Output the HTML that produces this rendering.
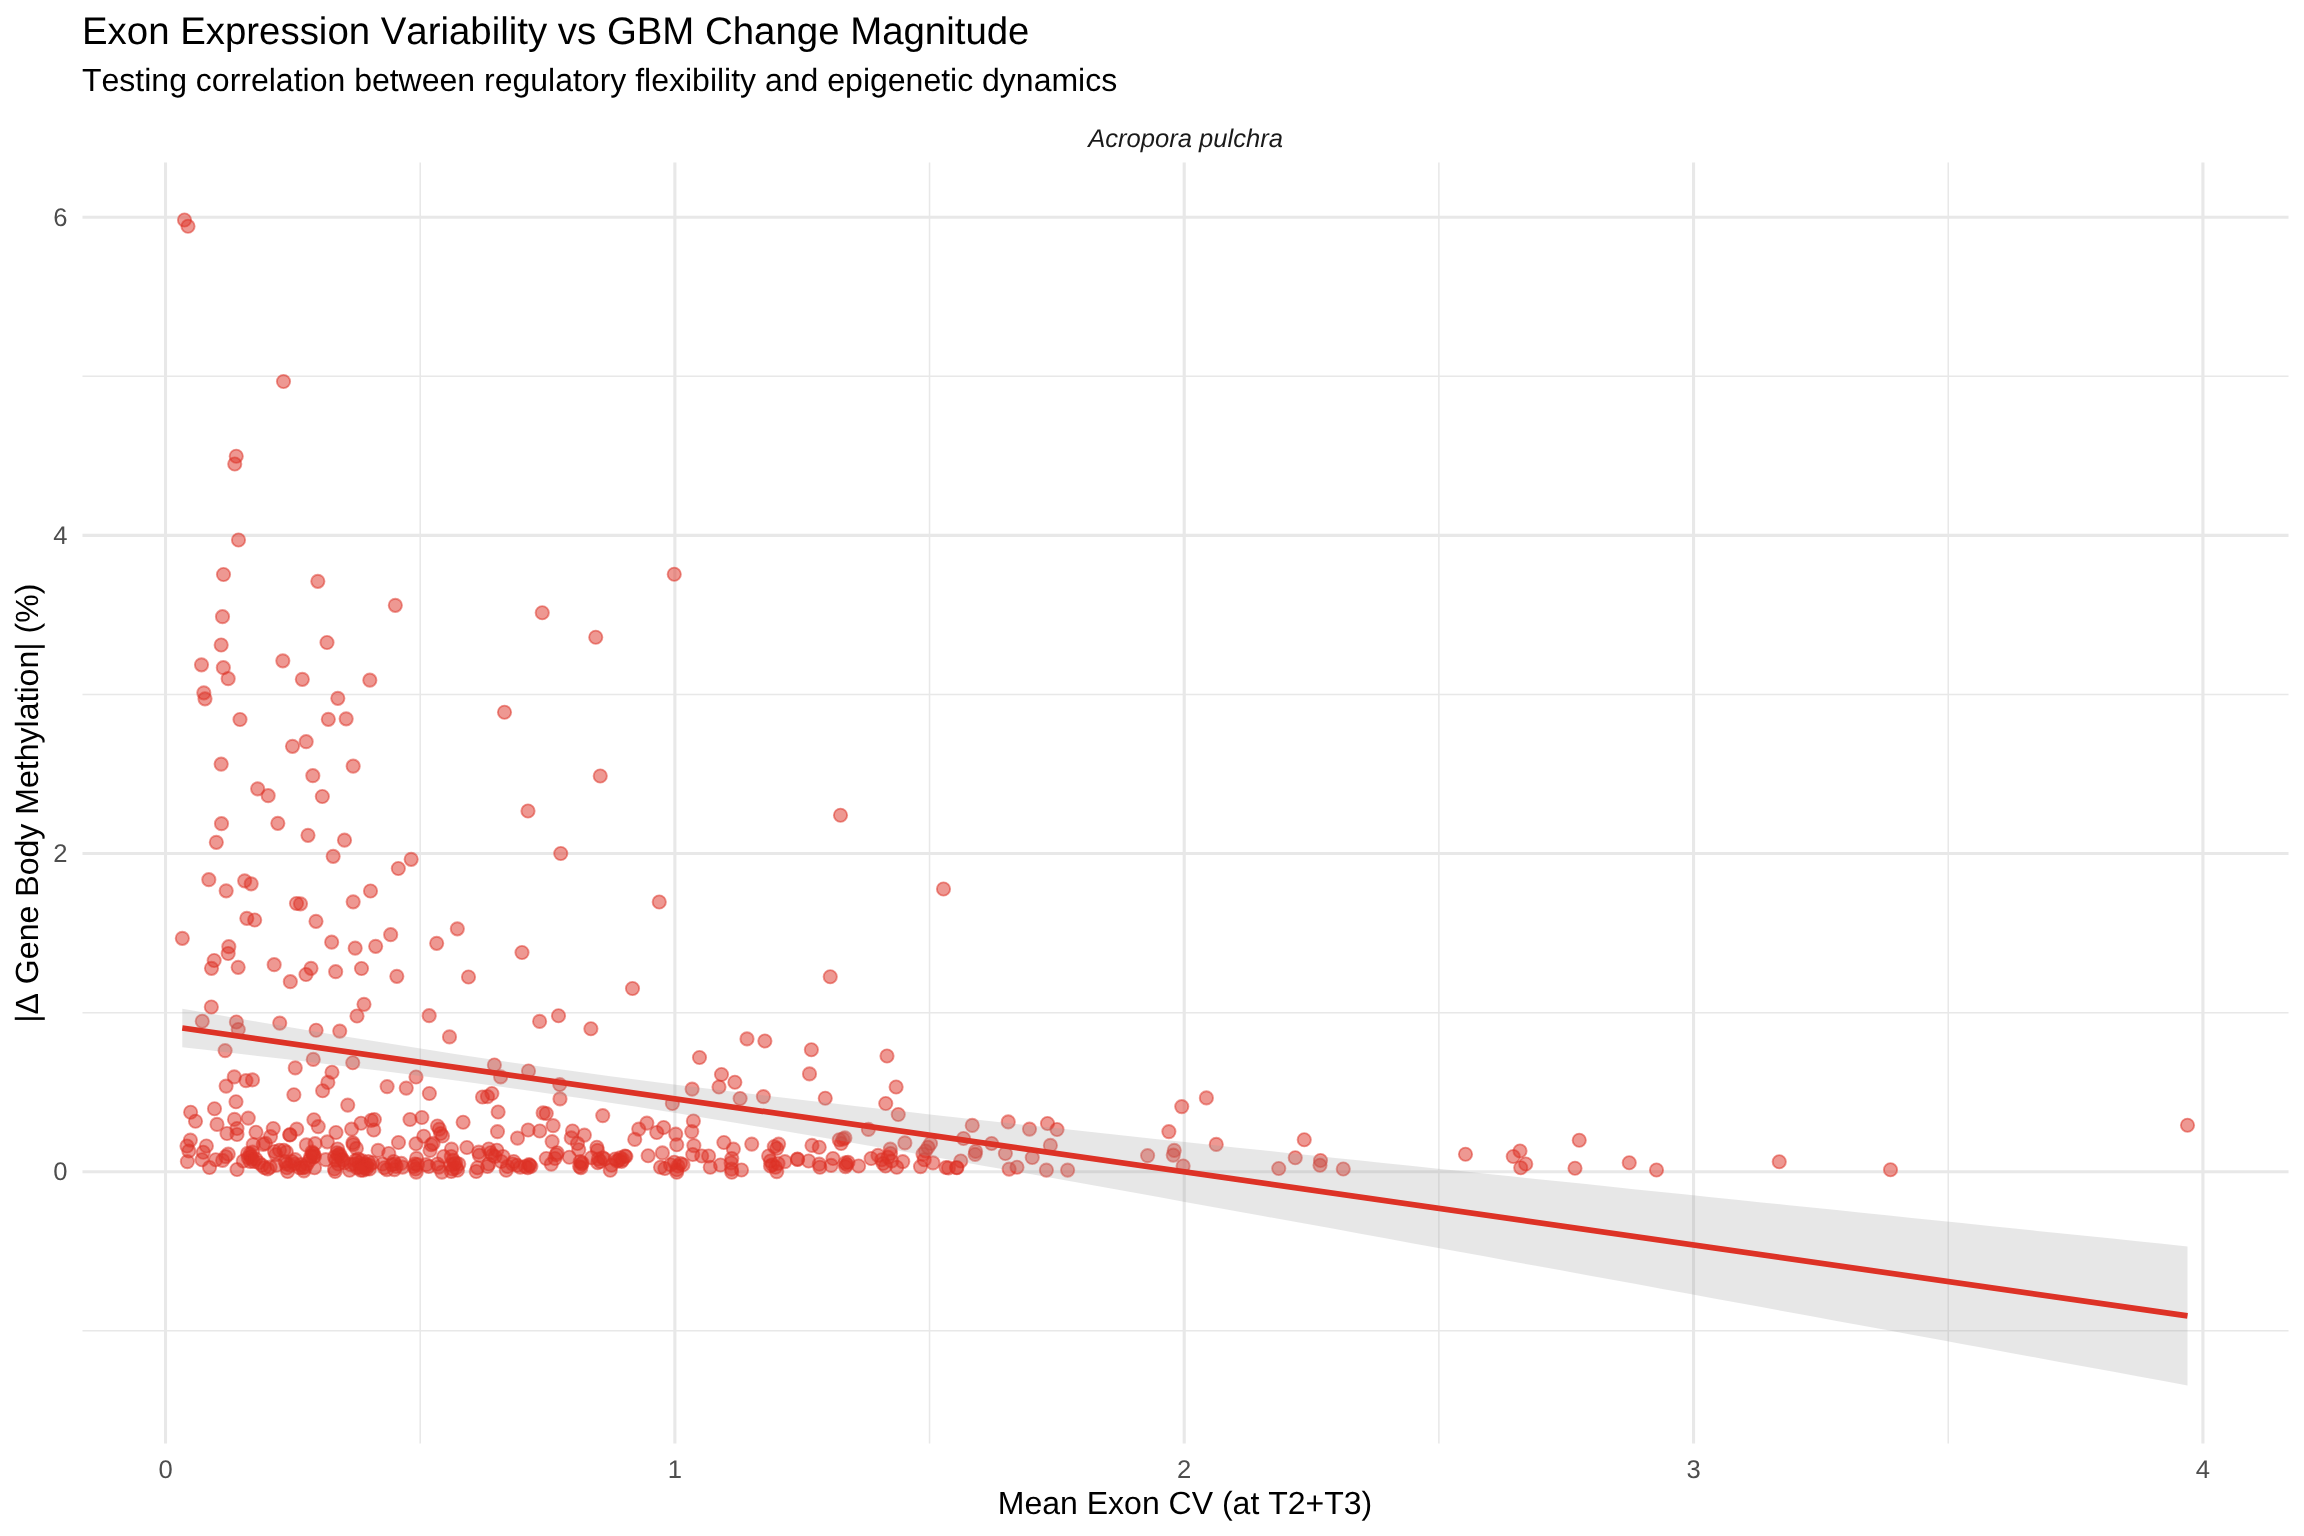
<!DOCTYPE html>
<html><head><meta charset="utf-8"><style>
html,body{margin:0;padding:0;background:#fff;}
body{width:2304px;height:1536px;overflow:hidden;font-family:"Liberation Sans",sans-serif;}
svg{display:block;will-change:transform;}
text{font-family:"Liberation Sans",sans-serif;font-kerning:none;text-rendering:geometricPrecision;}
</style></head><body>
<svg width="2304" height="1536" viewBox="0 0 2304 1536">
<g><line x1="82.5" y1="1330.83" x2="2288.5" y2="1330.83" stroke="#e8e8e8" stroke-width="1.55"/><line x1="82.5" y1="1012.65" x2="2288.5" y2="1012.65" stroke="#e8e8e8" stroke-width="1.55"/><line x1="82.5" y1="694.47" x2="2288.5" y2="694.47" stroke="#e8e8e8" stroke-width="1.55"/><line x1="82.5" y1="376.29" x2="2288.5" y2="376.29" stroke="#e8e8e8" stroke-width="1.55"/><line x1="82.5" y1="1171.74" x2="2288.5" y2="1171.74" stroke="#e8e8e8" stroke-width="3.1"/><line x1="82.5" y1="853.56" x2="2288.5" y2="853.56" stroke="#e8e8e8" stroke-width="3.1"/><line x1="82.5" y1="535.38" x2="2288.5" y2="535.38" stroke="#e8e8e8" stroke-width="3.1"/><line x1="82.5" y1="217.20" x2="2288.5" y2="217.20" stroke="#e8e8e8" stroke-width="3.1"/><line x1="420.20" y1="162.6" x2="420.20" y2="1443.6" stroke="#e8e8e8" stroke-width="1.55"/><line x1="929.55" y1="162.6" x2="929.55" y2="1443.6" stroke="#e8e8e8" stroke-width="1.55"/><line x1="1438.89" y1="162.6" x2="1438.89" y2="1443.6" stroke="#e8e8e8" stroke-width="1.55"/><line x1="1948.25" y1="162.6" x2="1948.25" y2="1443.6" stroke="#e8e8e8" stroke-width="1.55"/><line x1="165.52" y1="162.6" x2="165.52" y2="1443.6" stroke="#e8e8e8" stroke-width="3.1"/><line x1="674.87" y1="162.6" x2="674.87" y2="1443.6" stroke="#e8e8e8" stroke-width="3.1"/><line x1="1184.22" y1="162.6" x2="1184.22" y2="1443.6" stroke="#e8e8e8" stroke-width="3.1"/><line x1="1693.57" y1="162.6" x2="1693.57" y2="1443.6" stroke="#e8e8e8" stroke-width="3.1"/><line x1="2202.92" y1="162.6" x2="2202.92" y2="1443.6" stroke="#e8e8e8" stroke-width="3.1"/></g>
<g fill="#DD3226" fill-opacity="0.5" stroke="#DD3226" stroke-opacity="0.5" stroke-width="1.89"><circle cx="184.5" cy="220.0" r="6.63"/><circle cx="188.0" cy="226.25" r="6.63"/><circle cx="283.5" cy="381.5" r="6.63"/><circle cx="236.25" cy="456.25" r="6.63"/><circle cx="234.75" cy="464.0" r="6.63"/><circle cx="238.5" cy="540.0" r="6.63"/><circle cx="223.5" cy="574.5" r="6.63"/><circle cx="317.83" cy="581.33" r="6.63"/><circle cx="395.33" cy="605.33" r="6.63"/><circle cx="222.5" cy="616.67" r="6.63"/><circle cx="221.17" cy="645.0" r="6.63"/><circle cx="327.0" cy="642.5" r="6.63"/><circle cx="282.83" cy="660.83" r="6.63"/><circle cx="201.5" cy="664.83" r="6.63"/><circle cx="223.33" cy="667.67" r="6.63"/><circle cx="228.17" cy="678.67" r="6.63"/><circle cx="302.33" cy="679.33" r="6.63"/><circle cx="369.83" cy="680.17" r="6.63"/><circle cx="203.83" cy="692.83" r="6.63"/><circle cx="205.0" cy="698.83" r="6.63"/><circle cx="337.83" cy="698.33" r="6.63"/><circle cx="240.0" cy="719.5" r="6.63"/><circle cx="328.33" cy="719.33" r="6.63"/><circle cx="346.17" cy="718.83" r="6.63"/><circle cx="306.17" cy="741.67" r="6.63"/><circle cx="292.5" cy="746.33" r="6.63"/><circle cx="221.17" cy="764.17" r="6.63"/><circle cx="353.17" cy="766.17" r="6.63"/><circle cx="312.83" cy="775.67" r="6.63"/><circle cx="257.67" cy="788.83" r="6.63"/><circle cx="268.17" cy="795.67" r="6.63"/><circle cx="322.33" cy="796.5" r="6.63"/><circle cx="221.5" cy="823.67" r="6.63"/><circle cx="277.83" cy="823.33" r="6.63"/><circle cx="216.33" cy="842.33" r="6.63"/><circle cx="308.0" cy="835.33" r="6.63"/><circle cx="344.5" cy="840.17" r="6.63"/><circle cx="333.17" cy="856.33" r="6.63"/><circle cx="411.17" cy="859.33" r="6.63"/><circle cx="398.33" cy="868.5" r="6.63"/><circle cx="208.83" cy="879.67" r="6.63"/><circle cx="244.67" cy="880.83" r="6.63"/><circle cx="251.17" cy="883.83" r="6.63"/><circle cx="226.17" cy="890.83" r="6.63"/><circle cx="370.5" cy="891.0" r="6.63"/><circle cx="353.17" cy="901.83" r="6.63"/><circle cx="296.5" cy="903.5" r="6.63"/><circle cx="300.5" cy="903.83" r="6.63"/><circle cx="246.83" cy="918.33" r="6.63"/><circle cx="254.67" cy="920.0" r="6.63"/><circle cx="316.0" cy="921.33" r="6.63"/><circle cx="182.33" cy="938.33" r="6.63"/><circle cx="390.67" cy="934.67" r="6.63"/><circle cx="457.33" cy="928.83" r="6.63"/><circle cx="436.67" cy="943.33" r="6.63"/><circle cx="331.67" cy="942.17" r="6.63"/><circle cx="355.17" cy="948.17" r="6.63"/><circle cx="375.67" cy="946.33" r="6.63"/><circle cx="228.83" cy="946.67" r="6.63"/><circle cx="228.17" cy="953.5" r="6.63"/><circle cx="214.17" cy="960.5" r="6.63"/><circle cx="211.5" cy="968.33" r="6.63"/><circle cx="238.17" cy="967.33" r="6.63"/><circle cx="274.17" cy="964.67" r="6.63"/><circle cx="311.0" cy="968.33" r="6.63"/><circle cx="306.0" cy="974.5" r="6.63"/><circle cx="335.67" cy="971.67" r="6.63"/><circle cx="361.5" cy="968.5" r="6.63"/><circle cx="396.83" cy="976.33" r="6.63"/><circle cx="290.33" cy="981.67" r="6.63"/><circle cx="211.33" cy="1007.0" r="6.63"/><circle cx="364.0" cy="1004.33" r="6.63"/><circle cx="357.0" cy="1016.0" r="6.63"/><circle cx="429.17" cy="1015.67" r="6.63"/><circle cx="202.25" cy="1021.25" r="6.63"/><circle cx="236.38" cy="1022.0" r="6.63"/><circle cx="238.25" cy="1029.5" r="6.63"/><circle cx="279.75" cy="1023.12" r="6.63"/><circle cx="316.12" cy="1030.25" r="6.63"/><circle cx="339.75" cy="1031.12" r="6.63"/><circle cx="225.12" cy="1050.62" r="6.63"/><circle cx="313.25" cy="1059.38" r="6.63"/><circle cx="352.75" cy="1062.75" r="6.63"/><circle cx="295.25" cy="1067.88" r="6.63"/><circle cx="332.0" cy="1072.25" r="6.63"/><circle cx="234.25" cy="1076.88" r="6.63"/><circle cx="246.0" cy="1080.62" r="6.63"/><circle cx="252.5" cy="1079.88" r="6.63"/><circle cx="327.88" cy="1082.38" r="6.63"/><circle cx="226.12" cy="1086.12" r="6.63"/><circle cx="322.62" cy="1090.75" r="6.63"/><circle cx="293.88" cy="1094.75" r="6.63"/><circle cx="236.0" cy="1101.75" r="6.63"/><circle cx="347.75" cy="1105.12" r="6.63"/><circle cx="214.5" cy="1108.75" r="6.63"/><circle cx="190.62" cy="1112.25" r="6.63"/><circle cx="195.5" cy="1121.25" r="6.63"/><circle cx="234.5" cy="1119.38" r="6.63"/><circle cx="248.25" cy="1118.12" r="6.63"/><circle cx="217.0" cy="1124.38" r="6.63"/><circle cx="313.88" cy="1119.75" r="6.63"/><circle cx="318.25" cy="1126.62" r="6.63"/><circle cx="361.0" cy="1123.25" r="6.63"/><circle cx="237.0" cy="1128.5" r="6.63"/><circle cx="273.25" cy="1128.5" r="6.63"/><circle cx="296.75" cy="1129.12" r="6.63"/><circle cx="227.0" cy="1133.5" r="6.63"/><circle cx="237.0" cy="1134.5" r="6.63"/><circle cx="256.0" cy="1132.25" r="6.63"/><circle cx="270.5" cy="1136.62" r="6.63"/><circle cx="289.75" cy="1134.75" r="6.63"/><circle cx="290.0" cy="1134.88" r="6.63"/><circle cx="336.0" cy="1132.5" r="6.63"/><circle cx="351.62" cy="1129.12" r="6.63"/><circle cx="190.38" cy="1140.12" r="6.63"/><circle cx="187.0" cy="1146.0" r="6.63"/><circle cx="188.88" cy="1151.0" r="6.63"/><circle cx="206.38" cy="1146.0" r="6.63"/><circle cx="203.25" cy="1152.25" r="6.63"/><circle cx="202.0" cy="1159.75" r="6.63"/><circle cx="187.38" cy="1161.62" r="6.63"/><circle cx="209.5" cy="1167.5" r="6.63"/><circle cx="215.75" cy="1159.75" r="6.63"/><circle cx="222.62" cy="1160.38" r="6.63"/><circle cx="225.75" cy="1156.62" r="6.63"/><circle cx="228.25" cy="1154.12" r="6.63"/><circle cx="237.0" cy="1169.5" r="6.63"/><circle cx="243.25" cy="1161.0" r="6.63"/><circle cx="253.25" cy="1144.62" r="6.63"/><circle cx="263.25" cy="1144.31" r="6.63"/><circle cx="265.44" cy="1143.38" r="6.63"/><circle cx="306.38" cy="1144.94" r="6.63"/><circle cx="315.12" cy="1143.69" r="6.63"/><circle cx="327.31" cy="1141.81" r="6.63"/><circle cx="352.94" cy="1142.75" r="6.63"/><circle cx="353.25" cy="1144.62" r="6.63"/><circle cx="356.38" cy="1148.38" r="6.63"/><circle cx="337.62" cy="1149.0" r="6.63"/><circle cx="250.12" cy="1154.0" r="6.63"/><circle cx="250.75" cy="1156.5" r="6.63"/><circle cx="252.0" cy="1159.0" r="6.63"/><circle cx="248.25" cy="1157.75" r="6.63"/><circle cx="253.88" cy="1161.5" r="6.63"/><circle cx="258.88" cy="1162.75" r="6.63"/><circle cx="262.0" cy="1165.25" r="6.63"/><circle cx="264.5" cy="1167.75" r="6.63"/><circle cx="267.62" cy="1169.0" r="6.63"/><circle cx="270.12" cy="1167.12" r="6.63"/><circle cx="274.5" cy="1151.5" r="6.63"/><circle cx="275.75" cy="1154.62" r="6.63"/><circle cx="279.5" cy="1150.25" r="6.63"/><circle cx="283.88" cy="1150.25" r="6.63"/><circle cx="286.38" cy="1152.12" r="6.63"/><circle cx="276.38" cy="1165.25" r="6.63"/><circle cx="286.38" cy="1164.0" r="6.63"/><circle cx="287.0" cy="1167.75" r="6.63"/><circle cx="287.62" cy="1171.5" r="6.63"/><circle cx="292.0" cy="1161.5" r="6.63"/><circle cx="295.12" cy="1159.62" r="6.63"/><circle cx="294.5" cy="1164.0" r="6.63"/><circle cx="300.75" cy="1164.62" r="6.63"/><circle cx="302.62" cy="1167.75" r="6.63"/><circle cx="303.88" cy="1170.88" r="6.63"/><circle cx="307.0" cy="1164.0" r="6.63"/><circle cx="312.62" cy="1153.38" r="6.63"/><circle cx="313.88" cy="1154.0" r="6.63"/><circle cx="313.25" cy="1157.12" r="6.63"/><circle cx="309.5" cy="1160.25" r="6.63"/><circle cx="314.5" cy="1167.75" r="6.63"/><circle cx="325.75" cy="1159.62" r="6.63"/><circle cx="334.5" cy="1157.12" r="6.63"/><circle cx="338.25" cy="1155.25" r="6.63"/><circle cx="339.5" cy="1154.0" r="6.63"/><circle cx="341.38" cy="1159.0" r="6.63"/><circle cx="334.5" cy="1169.0" r="6.63"/><circle cx="335.12" cy="1171.5" r="6.63"/><circle cx="338.25" cy="1164.0" r="6.63"/><circle cx="344.5" cy="1162.75" r="6.63"/><circle cx="349.5" cy="1170.25" r="6.63"/><circle cx="350.75" cy="1164.62" r="6.63"/><circle cx="355.75" cy="1160.25" r="6.63"/><circle cx="358.88" cy="1162.75" r="6.63"/><circle cx="362.0" cy="1160.88" r="6.63"/><circle cx="365.12" cy="1164.0" r="6.63"/><circle cx="368.25" cy="1161.5" r="6.63"/><circle cx="366.38" cy="1169.0" r="6.63"/><circle cx="363.25" cy="1170.25" r="6.63"/><circle cx="360.12" cy="1167.12" r="6.63"/><circle cx="357.0" cy="1167.75" r="6.63"/><circle cx="369.5" cy="1165.25" r="6.63"/><circle cx="247.62" cy="1153.38" r="6.63"/><circle cx="252.62" cy="1152.12" r="6.63"/><circle cx="250.12" cy="1161.5" r="6.63"/><circle cx="255.75" cy="1159.0" r="6.63"/><circle cx="312.0" cy="1152.12" r="6.63"/><circle cx="314.5" cy="1156.5" r="6.63"/><circle cx="310.75" cy="1156.5" r="6.63"/><circle cx="337.0" cy="1152.75" r="6.63"/><circle cx="340.75" cy="1156.5" r="6.63"/><circle cx="343.25" cy="1160.25" r="6.63"/><circle cx="335.75" cy="1160.25" r="6.63"/><circle cx="354.5" cy="1164.0" r="6.63"/><circle cx="358.25" cy="1159.0" r="6.63"/><circle cx="362.62" cy="1164.62" r="6.63"/><circle cx="367.0" cy="1165.25" r="6.63"/><circle cx="369.5" cy="1169.0" r="6.63"/><circle cx="364.5" cy="1167.75" r="6.63"/><circle cx="360.75" cy="1170.25" r="6.63"/><circle cx="285.12" cy="1161.5" r="6.63"/><circle cx="290.12" cy="1165.25" r="6.63"/><circle cx="299.5" cy="1167.75" r="6.63"/><circle cx="305.12" cy="1167.12" r="6.63"/><circle cx="449.5" cy="1036.88" r="6.63"/><circle cx="539.62" cy="1021.38" r="6.63"/><circle cx="590.88" cy="1028.75" r="6.63"/><circle cx="494.38" cy="1065.0" r="6.63"/><circle cx="500.62" cy="1076.88" r="6.63"/><circle cx="528.5" cy="1071.0" r="6.63"/><circle cx="559.75" cy="1084.5" r="6.63"/><circle cx="560.0" cy="1098.88" r="6.63"/><circle cx="416.0" cy="1077.0" r="6.63"/><circle cx="387.12" cy="1086.62" r="6.63"/><circle cx="406.25" cy="1088.12" r="6.63"/><circle cx="429.38" cy="1093.5" r="6.63"/><circle cx="491.88" cy="1093.5" r="6.63"/><circle cx="487.5" cy="1096.62" r="6.63"/><circle cx="482.5" cy="1097.0" r="6.63"/><circle cx="498.12" cy="1112.0" r="6.63"/><circle cx="543.12" cy="1112.88" r="6.63"/><circle cx="546.25" cy="1113.5" r="6.63"/><circle cx="602.75" cy="1115.62" r="6.63"/><circle cx="374.38" cy="1119.5" r="6.63"/><circle cx="371.25" cy="1120.38" r="6.63"/><circle cx="373.75" cy="1130.0" r="6.63"/><circle cx="410.0" cy="1119.5" r="6.63"/><circle cx="421.88" cy="1117.5" r="6.63"/><circle cx="463.12" cy="1122.25" r="6.63"/><circle cx="437.5" cy="1126.0" r="6.63"/><circle cx="439.38" cy="1129.12" r="6.63"/><circle cx="440.62" cy="1133.5" r="6.63"/><circle cx="442.5" cy="1136.0" r="6.63"/><circle cx="497.5" cy="1131.62" r="6.63"/><circle cx="528.12" cy="1130.0" r="6.63"/><circle cx="539.75" cy="1131.0" r="6.63"/><circle cx="553.12" cy="1125.62" r="6.63"/><circle cx="517.5" cy="1138.12" r="6.63"/><circle cx="572.5" cy="1131.0" r="6.63"/><circle cx="571.25" cy="1137.88" r="6.63"/><circle cx="584.38" cy="1135.12" r="6.63"/><circle cx="552.12" cy="1141.62" r="6.63"/><circle cx="577.5" cy="1143.5" r="6.63"/><circle cx="578.75" cy="1149.75" r="6.63"/><circle cx="646.88" cy="1123.12" r="6.63"/><circle cx="638.75" cy="1129.12" r="6.63"/><circle cx="634.75" cy="1139.38" r="6.63"/><circle cx="423.75" cy="1136.25" r="6.63"/><circle cx="398.5" cy="1142.5" r="6.63"/><circle cx="416.0" cy="1143.75" r="6.63"/><circle cx="431.25" cy="1144.75" r="6.63"/><circle cx="430.0" cy="1150.38" r="6.63"/><circle cx="378.12" cy="1150.38" r="6.63"/><circle cx="388.75" cy="1153.5" r="6.63"/><circle cx="451.5" cy="1149.12" r="6.63"/><circle cx="466.88" cy="1147.5" r="6.63"/><circle cx="596.88" cy="1147.25" r="6.63"/><circle cx="597.5" cy="1150.38" r="6.63"/><circle cx="648.12" cy="1155.75" r="6.63"/><circle cx="625.0" cy="1156.0" r="6.63"/><circle cx="569.38" cy="1157.25" r="6.63"/><circle cx="546.25" cy="1158.5" r="6.63"/><circle cx="556.25" cy="1154.75" r="6.63"/><circle cx="555.0" cy="1158.5" r="6.63"/><circle cx="551.25" cy="1164.12" r="6.63"/><circle cx="433.12" cy="1143.38" r="6.63"/><circle cx="416.56" cy="1158.38" r="6.63"/><circle cx="372.5" cy="1162.75" r="6.63"/><circle cx="382.5" cy="1164.0" r="6.63"/><circle cx="384.38" cy="1167.75" r="6.63"/><circle cx="386.88" cy="1169.62" r="6.63"/><circle cx="393.75" cy="1161.5" r="6.63"/><circle cx="395.0" cy="1164.0" r="6.63"/><circle cx="396.25" cy="1166.5" r="6.63"/><circle cx="394.38" cy="1169.62" r="6.63"/><circle cx="391.88" cy="1164.62" r="6.63"/><circle cx="401.25" cy="1163.38" r="6.63"/><circle cx="402.5" cy="1167.12" r="6.63"/><circle cx="413.75" cy="1166.5" r="6.63"/><circle cx="415.62" cy="1169.0" r="6.63"/><circle cx="416.25" cy="1172.12" r="6.63"/><circle cx="417.5" cy="1164.62" r="6.63"/><circle cx="415.0" cy="1164.0" r="6.63"/><circle cx="426.25" cy="1164.62" r="6.63"/><circle cx="428.75" cy="1166.5" r="6.63"/><circle cx="437.5" cy="1164.0" r="6.63"/><circle cx="438.75" cy="1167.12" r="6.63"/><circle cx="441.88" cy="1172.12" r="6.63"/><circle cx="443.75" cy="1156.5" r="6.63"/><circle cx="451.25" cy="1156.5" r="6.63"/><circle cx="453.12" cy="1160.25" r="6.63"/><circle cx="454.38" cy="1164.0" r="6.63"/><circle cx="456.25" cy="1167.75" r="6.63"/><circle cx="457.5" cy="1170.25" r="6.63"/><circle cx="452.5" cy="1169.0" r="6.63"/><circle cx="451.25" cy="1171.5" r="6.63"/><circle cx="458.75" cy="1164.0" r="6.63"/><circle cx="455.62" cy="1162.75" r="6.63"/><circle cx="450.62" cy="1164.62" r="6.63"/><circle cx="478.75" cy="1152.12" r="6.63"/><circle cx="479.38" cy="1155.25" r="6.63"/><circle cx="488.75" cy="1149.0" r="6.63"/><circle cx="490.62" cy="1152.75" r="6.63"/><circle cx="492.5" cy="1155.25" r="6.63"/><circle cx="496.88" cy="1150.25" r="6.63"/><circle cx="495.0" cy="1156.5" r="6.63"/><circle cx="503.12" cy="1156.5" r="6.63"/><circle cx="501.25" cy="1161.5" r="6.63"/><circle cx="476.25" cy="1171.5" r="6.63"/><circle cx="477.5" cy="1167.75" r="6.63"/><circle cx="487.5" cy="1166.5" r="6.63"/><circle cx="488.75" cy="1164.0" r="6.63"/><circle cx="506.25" cy="1170.25" r="6.63"/><circle cx="507.5" cy="1166.5" r="6.63"/><circle cx="512.5" cy="1164.0" r="6.63"/><circle cx="513.75" cy="1161.5" r="6.63"/><circle cx="517.12" cy="1165.25" r="6.63"/><circle cx="520.25" cy="1167.12" r="6.63"/><circle cx="527.75" cy="1167.75" r="6.63"/><circle cx="529.62" cy="1165.25" r="6.63"/><circle cx="530.88" cy="1166.5" r="6.63"/><circle cx="529.0" cy="1164.62" r="6.63"/><circle cx="525.25" cy="1166.5" r="6.63"/><circle cx="557.12" cy="1152.75" r="6.63"/><circle cx="580.25" cy="1161.5" r="6.63"/><circle cx="581.5" cy="1164.0" r="6.63"/><circle cx="580.88" cy="1167.75" r="6.63"/><circle cx="579.62" cy="1166.5" r="6.63"/><circle cx="582.12" cy="1162.75" r="6.63"/><circle cx="591.5" cy="1157.75" r="6.63"/><circle cx="598.38" cy="1159.0" r="6.63"/><circle cx="600.25" cy="1161.5" r="6.63"/><circle cx="597.75" cy="1162.75" r="6.63"/><circle cx="602.75" cy="1157.75" r="6.63"/><circle cx="604.62" cy="1159.0" r="6.63"/><circle cx="610.25" cy="1170.25" r="6.63"/><circle cx="611.5" cy="1165.25" r="6.63"/><circle cx="615.25" cy="1159.0" r="6.63"/><circle cx="619.0" cy="1160.25" r="6.63"/><circle cx="620.25" cy="1157.75" r="6.63"/><circle cx="622.75" cy="1159.62" r="6.63"/><circle cx="617.12" cy="1160.88" r="6.63"/><circle cx="621.5" cy="1161.5" r="6.63"/><circle cx="625.88" cy="1156.5" r="6.63"/><circle cx="747.0" cy="1038.88" r="6.63"/><circle cx="764.88" cy="1041.0" r="6.63"/><circle cx="699.5" cy="1057.5" r="6.63"/><circle cx="811.38" cy="1049.75" r="6.63"/><circle cx="887.0" cy="1056.0" r="6.63"/><circle cx="721.5" cy="1074.5" r="6.63"/><circle cx="809.5" cy="1073.88" r="6.63"/><circle cx="734.88" cy="1082.25" r="6.63"/><circle cx="719.0" cy="1087.0" r="6.63"/><circle cx="692.12" cy="1089.12" r="6.63"/><circle cx="896.12" cy="1087.0" r="6.63"/><circle cx="740.12" cy="1098.5" r="6.63"/><circle cx="763.38" cy="1096.62" r="6.63"/><circle cx="825.25" cy="1098.25" r="6.63"/><circle cx="885.75" cy="1103.5" r="6.63"/><circle cx="672.38" cy="1103.5" r="6.63"/><circle cx="898.25" cy="1114.5" r="6.63"/><circle cx="693.38" cy="1121.0" r="6.63"/><circle cx="691.75" cy="1131.62" r="6.63"/><circle cx="663.62" cy="1127.5" r="6.63"/><circle cx="656.75" cy="1132.5" r="6.63"/><circle cx="675.75" cy="1134.12" r="6.63"/><circle cx="676.75" cy="1144.75" r="6.63"/><circle cx="693.88" cy="1145.62" r="6.63"/><circle cx="723.88" cy="1142.5" r="6.63"/><circle cx="733.38" cy="1149.12" r="6.63"/><circle cx="751.75" cy="1144.12" r="6.63"/><circle cx="868.38" cy="1129.38" r="6.63"/><circle cx="904.88" cy="1142.88" r="6.63"/><circle cx="839.25" cy="1139.75" r="6.63"/><circle cx="843.0" cy="1139.12" r="6.63"/><circle cx="844.88" cy="1137.88" r="6.63"/><circle cx="841.12" cy="1143.5" r="6.63"/><circle cx="778.62" cy="1144.12" r="6.63"/><circle cx="774.25" cy="1146.62" r="6.63"/><circle cx="776.75" cy="1148.5" r="6.63"/><circle cx="812.0" cy="1145.38" r="6.63"/><circle cx="819.25" cy="1147.25" r="6.63"/><circle cx="890.25" cy="1149.12" r="6.63"/><circle cx="930.5" cy="1143.5" r="6.63"/><circle cx="928.0" cy="1147.25" r="6.63"/><circle cx="925.5" cy="1151.0" r="6.63"/><circle cx="923.0" cy="1154.12" r="6.63"/><circle cx="662.38" cy="1152.88" r="6.63"/><circle cx="692.75" cy="1154.5" r="6.63"/><circle cx="701.75" cy="1156.0" r="6.63"/><circle cx="708.62" cy="1156.0" r="6.63"/><circle cx="731.75" cy="1158.5" r="6.63"/><circle cx="731.12" cy="1162.88" r="6.63"/><circle cx="720.5" cy="1165.0" r="6.63"/><circle cx="710.25" cy="1167.25" r="6.63"/><circle cx="731.5" cy="1169.12" r="6.63"/><circle cx="731.75" cy="1172.25" r="6.63"/><circle cx="741.5" cy="1170.0" r="6.63"/><circle cx="797.38" cy="1159.12" r="6.63"/><circle cx="797.62" cy="1159.38" r="6.63"/><circle cx="808.62" cy="1161.0" r="6.63"/><circle cx="784.88" cy="1161.62" r="6.63"/><circle cx="768.62" cy="1156.0" r="6.63"/><circle cx="770.5" cy="1161.0" r="6.63"/><circle cx="772.38" cy="1164.75" r="6.63"/><circle cx="775.5" cy="1167.25" r="6.63"/><circle cx="776.75" cy="1171.62" r="6.63"/><circle cx="770.5" cy="1166.0" r="6.63"/><circle cx="778.0" cy="1163.5" r="6.63"/><circle cx="819.25" cy="1164.12" r="6.63"/><circle cx="819.88" cy="1167.25" r="6.63"/><circle cx="833.0" cy="1158.5" r="6.63"/><circle cx="831.12" cy="1165.38" r="6.63"/><circle cx="845.5" cy="1162.88" r="6.63"/><circle cx="846.75" cy="1164.75" r="6.63"/><circle cx="848.0" cy="1162.25" r="6.63"/><circle cx="845.5" cy="1166.62" r="6.63"/><circle cx="858.62" cy="1166.0" r="6.63"/><circle cx="871.12" cy="1158.5" r="6.63"/><circle cx="878.0" cy="1155.38" r="6.63"/><circle cx="881.75" cy="1159.75" r="6.63"/><circle cx="883.0" cy="1163.5" r="6.63"/><circle cx="885.5" cy="1166.0" r="6.63"/><circle cx="888.0" cy="1157.25" r="6.63"/><circle cx="890.5" cy="1153.5" r="6.63"/><circle cx="891.75" cy="1161.0" r="6.63"/><circle cx="896.75" cy="1167.25" r="6.63"/><circle cx="902.75" cy="1161.62" r="6.63"/><circle cx="920.5" cy="1166.62" r="6.63"/><circle cx="924.25" cy="1159.75" r="6.63"/><circle cx="933.0" cy="1162.88" r="6.63"/><circle cx="674.25" cy="1162.25" r="6.63"/><circle cx="678.0" cy="1166.0" r="6.63"/><circle cx="680.5" cy="1163.5" r="6.63"/><circle cx="676.75" cy="1169.75" r="6.63"/><circle cx="683.0" cy="1164.75" r="6.63"/><circle cx="664.88" cy="1168.5" r="6.63"/><circle cx="660.5" cy="1167.25" r="6.63"/><circle cx="670.5" cy="1164.75" r="6.63"/><circle cx="676.75" cy="1172.25" r="6.63"/><circle cx="972.25" cy="1125.38" r="6.63"/><circle cx="1008.25" cy="1121.88" r="6.63"/><circle cx="1029.5" cy="1129.12" r="6.63"/><circle cx="1047.5" cy="1123.5" r="6.63"/><circle cx="1057.0" cy="1129.5" r="6.63"/><circle cx="963.5" cy="1138.5" r="6.63"/><circle cx="991.62" cy="1143.5" r="6.63"/><circle cx="1050.38" cy="1145.38" r="6.63"/><circle cx="975.62" cy="1151.38" r="6.63"/><circle cx="975.12" cy="1154.38" r="6.63"/><circle cx="1005.38" cy="1153.5" r="6.63"/><circle cx="1032.25" cy="1157.5" r="6.63"/><circle cx="960.75" cy="1161.0" r="6.63"/><circle cx="948.5" cy="1167.88" r="6.63"/><circle cx="956.62" cy="1167.5" r="6.63"/><circle cx="956.88" cy="1167.75" r="6.63"/><circle cx="946.0" cy="1167.5" r="6.63"/><circle cx="1009.12" cy="1169.12" r="6.63"/><circle cx="1017.0" cy="1167.25" r="6.63"/><circle cx="1046.38" cy="1170.12" r="6.63"/><circle cx="1067.62" cy="1170.12" r="6.63"/><circle cx="1147.62" cy="1155.62" r="6.63"/><circle cx="1168.88" cy="1131.62" r="6.63"/><circle cx="1174.25" cy="1150.38" r="6.63"/><circle cx="1173.25" cy="1155.12" r="6.63"/><circle cx="1183.12" cy="1166.0" r="6.63"/><circle cx="1181.75" cy="1106.62" r="6.63"/><circle cx="1206.38" cy="1097.88" r="6.63"/><circle cx="1216.25" cy="1144.38" r="6.63"/><circle cx="1304.25" cy="1139.75" r="6.63"/><circle cx="1295.25" cy="1157.75" r="6.63"/><circle cx="1278.75" cy="1168.5" r="6.63"/><circle cx="1320.5" cy="1160.5" r="6.63"/><circle cx="1320.0" cy="1165.25" r="6.63"/><circle cx="1343.25" cy="1169.0" r="6.63"/><circle cx="1465.5" cy="1154.25" r="6.63"/><circle cx="1520.0" cy="1151.0" r="6.63"/><circle cx="1513.25" cy="1156.5" r="6.63"/><circle cx="1525.75" cy="1164.0" r="6.63"/><circle cx="1520.75" cy="1167.75" r="6.63"/><circle cx="1579.25" cy="1140.25" r="6.63"/><circle cx="1575.0" cy="1168.25" r="6.63"/><circle cx="1629.25" cy="1162.75" r="6.63"/><circle cx="1656.5" cy="1170.0" r="6.63"/><circle cx="1779.25" cy="1161.75" r="6.63"/><circle cx="1890.5" cy="1169.75" r="6.63"/><circle cx="2187.5" cy="1125.25" r="6.63"/><circle cx="674.25" cy="574.25" r="6.63"/><circle cx="542.25" cy="612.75" r="6.63"/><circle cx="595.75" cy="637.25" r="6.63"/><circle cx="504.5" cy="712.25" r="6.63"/><circle cx="600.25" cy="776.0" r="6.63"/><circle cx="528.0" cy="811.0" r="6.63"/><circle cx="840.5" cy="815.25" r="6.63"/><circle cx="560.75" cy="853.5" r="6.63"/><circle cx="943.5" cy="889.0" r="6.63"/><circle cx="659.25" cy="902.0" r="6.63"/><circle cx="522.0" cy="952.5" r="6.63"/><circle cx="468.5" cy="977.0" r="6.63"/><circle cx="632.5" cy="988.5" r="6.63"/><circle cx="830.25" cy="976.75" r="6.63"/><circle cx="558.5" cy="1015.75" r="6.63"/></g>
<polygon points="182.3,1008.8 207.4,1013.1 232.4,1017.4 257.5,1021.7 282.6,1026.0 307.6,1030.2 332.7,1034.4 357.8,1038.5 382.8,1042.6 407.9,1046.6 433.0,1050.5 458.0,1054.4 483.1,1058.2 508.1,1061.9 533.2,1065.5 558.3,1069.1 583.3,1072.5 608.4,1075.9 633.5,1079.2 658.5,1082.5 683.6,1085.7 708.7,1088.8 733.7,1091.8 758.8,1094.8 783.9,1097.8 808.9,1100.7 834.0,1103.6 859.1,1106.5 884.1,1109.3 909.2,1112.1 934.2,1114.9 959.3,1117.7 984.4,1120.4 1009.4,1123.2 1034.5,1125.9 1059.6,1128.6 1084.6,1131.3 1109.7,1134.0 1134.8,1136.7 1159.8,1139.4 1184.9,1142.1 1210.0,1144.7 1235.0,1147.4 1260.1,1150.0 1285.2,1152.7 1310.2,1155.3 1335.3,1157.9 1360.4,1160.6 1385.4,1163.2 1410.5,1165.8 1435.5,1168.5 1460.6,1171.1 1485.7,1173.7 1510.7,1176.3 1535.8,1178.9 1560.9,1181.5 1585.9,1184.1 1611.0,1186.7 1636.1,1189.4 1661.1,1192.0 1686.2,1194.6 1711.3,1197.2 1736.3,1199.8 1761.4,1202.4 1786.5,1205.0 1811.5,1207.5 1836.6,1210.1 1861.7,1212.7 1886.7,1215.3 1911.8,1217.9 1936.8,1220.5 1961.9,1223.1 1987.0,1225.7 2012.0,1228.3 2037.1,1230.9 2062.2,1233.4 2087.2,1236.0 2112.3,1238.6 2137.4,1241.2 2162.4,1243.8 2187.5,1246.4 2187.5,1385.4 2162.4,1380.8 2137.4,1376.2 2112.3,1371.6 2087.2,1367.0 2062.2,1362.4 2037.1,1357.8 2012.0,1353.2 1987.0,1348.5 1961.9,1343.9 1936.8,1339.3 1911.8,1334.7 1886.7,1330.1 1861.7,1325.5 1836.6,1320.9 1811.5,1316.3 1786.5,1311.7 1761.4,1307.1 1736.3,1302.5 1711.3,1297.9 1686.2,1293.3 1661.1,1288.7 1636.1,1284.1 1611.0,1279.5 1585.9,1274.9 1560.9,1270.3 1535.8,1265.8 1510.7,1261.2 1485.7,1256.6 1460.6,1252.0 1435.5,1247.4 1410.5,1242.9 1385.4,1238.3 1360.4,1233.7 1335.3,1229.1 1310.2,1224.6 1285.2,1220.0 1260.1,1215.5 1235.0,1210.9 1210.0,1206.4 1184.9,1201.9 1159.8,1197.3 1134.8,1192.8 1109.7,1188.3 1084.6,1183.8 1059.6,1179.3 1034.5,1174.8 1009.4,1170.3 984.4,1165.9 959.3,1161.4 934.2,1157.0 909.2,1152.6 884.1,1148.2 859.1,1143.9 834.0,1139.5 808.9,1135.2 783.9,1130.9 758.8,1126.7 733.7,1122.5 708.7,1118.4 683.6,1114.3 658.5,1110.3 633.5,1106.3 608.4,1102.4 583.3,1098.6 558.3,1094.9 533.2,1091.2 508.1,1087.7 483.1,1084.2 458.0,1080.8 433.0,1077.4 407.9,1074.2 382.8,1071.0 357.8,1067.9 332.7,1064.8 307.6,1061.8 282.6,1058.8 257.5,1055.9 232.4,1053.0 207.4,1050.1 182.3,1047.2" fill="#999999" fill-opacity="0.24"/>
<line x1="182.3" y1="1028.00" x2="2187.5" y2="1315.91" stroke="#DD3226" stroke-width="5.69"/>
<text x="82" y="44" font-size="38.4" fill="#000">Exon Expression Variability vs GBM Change Magnitude</text>
<text x="82" y="90.6" font-size="32" fill="#000">Testing correlation between regulatory flexibility and epigenetic dynamics</text>
<text x="1185.6" y="146.5" font-size="25.6" font-style="italic" fill="#1a1a1a" text-anchor="middle">Acropora pulchra</text>
<g font-size="25.6" fill="#4d4d4d" text-anchor="end">
<text x="67.5" y="225.6">6</text><text x="67.5" y="543.8">4</text><text x="67.5" y="862.0">2</text><text x="67.5" y="1180.1">0</text>
</g>
<g font-size="25.6" fill="#4d4d4d" text-anchor="middle">
<text x="165.5" y="1478">0</text><text x="674.9" y="1478">1</text><text x="1184.2" y="1478">2</text><text x="1693.6" y="1478">3</text><text x="2202.9" y="1478">4</text>
</g>
<text x="1185" y="1513.7" font-size="32" fill="#000" text-anchor="middle">Mean Exon CV (at T2+T3)</text>
<text transform="translate(38.4,803.2) rotate(-90)" font-size="32.08" fill="#000" text-anchor="middle">|Δ Gene Body Methylation| (%)</text>
</svg>
</body></html>
